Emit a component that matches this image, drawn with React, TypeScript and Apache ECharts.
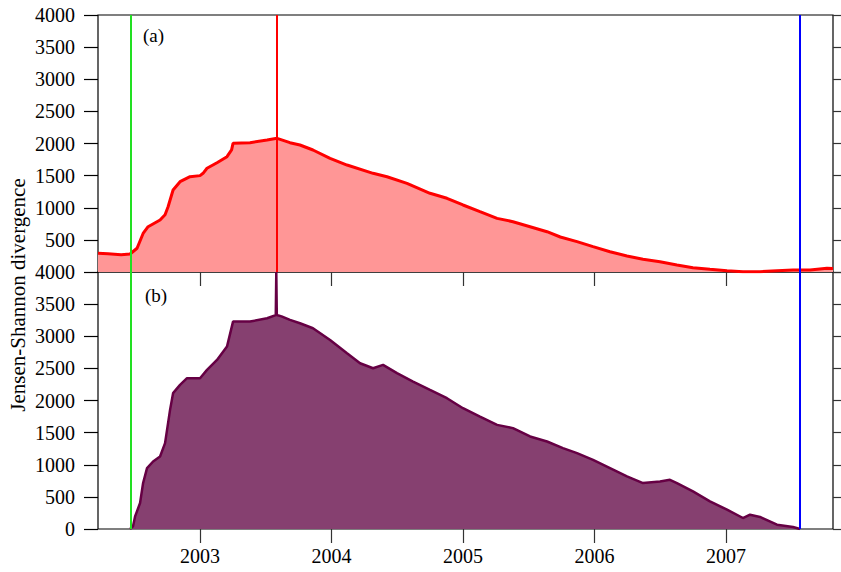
import React, { useEffect, useRef } from "react";
import * as echarts from "echarts";

const X_MIN = 2002.224;
const X_MAX = 2007.814;
const YEAR_TICKS = [2003, 2004, 2005, 2006, 2007];
const Y_MAX = 4000;

const GREEN_EVENT = 2002.47;
const RED_EVENT = 2003.58;
const BLUE_EVENT = 2007.56;

// Panel (a)
const yearsA = [
  2002.224, 2002.3, 2002.4, 2002.468, 2002.521, 2002.567, 2002.605, 2002.696, 2002.734,
  2002.757, 2002.795, 2002.848, 2002.924, 2003.0, 2003.023, 2003.053, 2003.129, 2003.205,
  2003.24, 2003.251, 2003.38, 2003.51, 2003.586, 2003.684, 2003.76, 2003.859, 2003.989,
  2004.118, 2004.316, 2004.422, 2004.574, 2004.749, 2004.878, 2005.0, 2005.129, 2005.259,
  2005.38, 2005.51, 2005.639, 2005.74, 2005.867, 2005.989, 2006.118, 2006.247, 2006.369,
  2006.498, 2006.627, 2006.749, 2006.878, 2007.008, 2007.129, 2007.259, 2007.388, 2007.51,
  2007.639, 2007.768, 2007.814,
];
const valuesA = [
  290, 285, 270, 280, 370, 600, 705, 810, 890,
  1016, 1276, 1406, 1483, 1500, 1536, 1614, 1701, 1795,
  1900, 2003, 2013, 2054, 2081, 2013, 1977, 1899, 1769,
  1665, 1536, 1483, 1380, 1225, 1147, 1043, 939, 835,
  783, 705, 627, 545, 472, 394, 316, 249, 197,
  160, 109, 67, 42, 20, 5, 5, 20, 31,
  31, 57, 55,
];

// Panel (b)
const yearsB = [
  2002.468, 2002.49, 2002.506, 2002.544, 2002.567, 2002.597, 2002.643, 2002.696, 2002.734,
  2002.772, 2002.795, 2002.848, 2002.901, 2003.0, 2003.053, 2003.129, 2003.205, 2003.251,
  2003.38, 2003.51, 2003.576, 2003.58, 2003.584, 2003.62, 2003.684, 2003.76, 2003.859,
  2003.989, 2004.118, 2004.217, 2004.316, 2004.392, 2004.498, 2004.62, 2004.749, 2004.878,
  2005.0, 2005.129, 2005.259, 2005.38, 2005.51, 2005.639, 2005.76, 2005.867, 2005.989,
  2006.118, 2006.247, 2006.369, 2006.498, 2006.574, 2006.627, 2006.749, 2006.878, 2007.008,
  2007.129, 2007.183, 2007.259, 2007.388, 2007.51, 2007.563,
];
const valuesB = [
  0, 40, 196, 404, 715, 948, 1051, 1129, 1337,
  1854, 2114, 2243, 2347, 2347, 2476, 2632, 2839, 3228,
  3228, 3280, 3330, 4000, 3330, 3310, 3254, 3202, 3125,
  2943, 2736, 2580, 2502, 2554, 2425, 2295, 2165, 2036,
  1880, 1750, 1621, 1570, 1440, 1362, 1259, 1180, 1077,
  948, 818, 715, 740, 766, 715, 585, 429, 300,
  171, 222, 187, 67, 31, 0,
];

const FONT = "Liberation Serif";

export default function App() {
  const ref = useRef<HTMLDivElement>(null);

  useEffect(() => {
    if (!ref.current) return;
    const chart = echarts.init(ref.current, undefined, { renderer: "svg" });

    const gridCommon = {
      left: 98,
      width: 735,
      show: true,
      borderColor: "#000",
      borderWidth: 1.2,
      backgroundColor: "transparent",
    };

    const xAxisBase = (gridIndex: number, labels: boolean) => ({
      type: "value",
      gridIndex,
      min: X_MIN,
      max: X_MAX,
      axisLine: { show: false },
      splitLine: { show: false },
      axisTick: {
        show: true,
        customValues: YEAR_TICKS,
        length: 14,
        lineStyle: { color: "#333", width: 1.2 },
      },
      axisLabel: {
        show: labels,
        customValues: YEAR_TICKS,
        formatter: (v: number) => String(Math.round(v)),
        fontFamily: FONT,
        fontSize: 20,
        color: "#000",
        margin: 17,
      },
    });

    const yLeft = (gridIndex: number, showMin: boolean) => ({
      type: "value",
      gridIndex,
      position: "left",
      min: 0,
      max: Y_MAX,
      interval: 500,
      axisLine: { show: false },
      splitLine: { show: false },
      axisTick: { show: true, length: 14, lineStyle: { color: "#000", width: 1.2 } },
      axisLabel: {
        showMinLabel: showMin,
        formatter: (v: number) => String(v),
        fontFamily: FONT,
        fontSize: 20,
        color: "#000",
        margin: 23,
      },
    });

    const yRight = (gridIndex: number) => ({
      type: "value",
      gridIndex,
      position: "right",
      min: 0,
      max: Y_MAX,
      interval: 500,
      axisLine: { show: false },
      splitLine: { show: false },
      axisTick: { show: true, length: 8, lineStyle: { color: "#333", width: 1.2 } },
      axisLabel: { show: false },
    });

    const vline = (x: number, color: string) => ({
      xAxis: x,
      lineStyle: { color, width: 2, type: "solid" },
    });

    chart.setOption({
      animation: false,
      backgroundColor: "#fff",
      grid: [
        { ...gridCommon, top: 15, height: 257 },
        { ...gridCommon, top: 272, height: 257 },
      ],
      xAxis: [xAxisBase(0, false), xAxisBase(1, true)],
      yAxis: [yLeft(0, false), yRight(0), yLeft(1, true), yRight(1)],
      series: [
        {
          type: "line",
          xAxisIndex: 0,
          yAxisIndex: 0,
          data: yearsA.map((x, i) => [x, valuesA[i]]),
          showSymbol: false,
          symbol: "none",
          lineStyle: { color: "#ff0000", width: 3 },
          areaStyle: { color: "#ff9696", opacity: 1 },
          z: 2,
          markLine: {
            silent: true,
            symbol: ["none", "none"],
            label: { show: false },
            data: [
              vline(GREEN_EVENT, "#22e022"),
              vline(RED_EVENT, "#ff0000"),
              vline(BLUE_EVENT, "#0000ff"),
            ],
          },
        },
        {
          type: "line",
          xAxisIndex: 1,
          yAxisIndex: 2,
          data: yearsB.map((x, i) => [x, valuesB[i]]),
          showSymbol: false,
          symbol: "none",
          lineStyle: { color: "#660044", width: 2.5 },
          areaStyle: { color: "#864070", opacity: 1 },
          z: 2,
          markLine: {
            silent: true,
            symbol: ["none", "none"],
            label: { show: false },
            data: [vline(GREEN_EVENT, "#22e022"), vline(BLUE_EVENT, "#0000ff")],
          },
        },
      ],
      graphic: [
        {
          type: "text",
          left: 143,
          top: 26,
          style: { text: "(a)", fontFamily: FONT, fontSize: 19, fill: "#000" },
        },
        {
          type: "text",
          left: 145,
          top: 286,
          style: { text: "(b)", fontFamily: FONT, fontSize: 19, fill: "#000" },
        },
        {
          type: "text",
          x: 18,
          y: 295,
          rotation: Math.PI / 2,
          style: {
            text: "Jensen-Shannon divergence",
            fontFamily: FONT,
            fontSize: 21,
            fill: "#000",
            align: "center",
            verticalAlign: "middle",
          },
        },
      ],
    });

    return () => chart.dispose();
  }, []);

  return (
    <div
      ref={ref}
      style={{ position: "fixed", left: 0, top: 0, width: 841, height: 572, background: "#fff" }}
    />
  );
}
